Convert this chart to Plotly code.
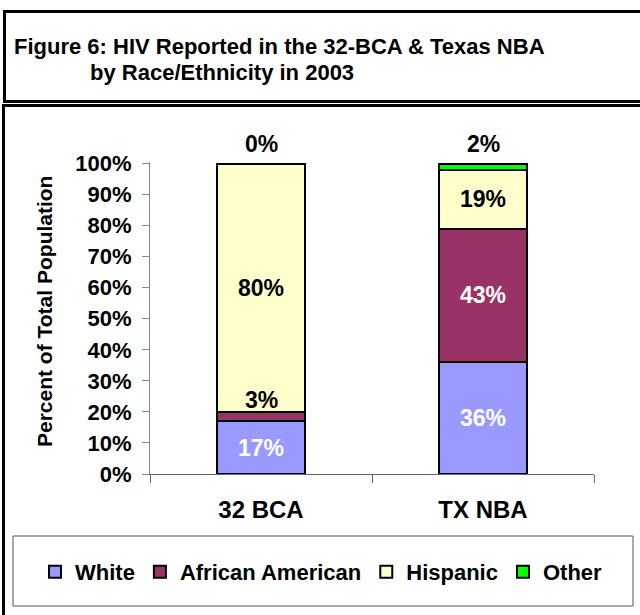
import plotly.graph_objects as go

# ---- data ----
categories = ["32 BCA", "TX NBA"]
series_names = ["White", "African American", "Hispanic", "Other"]
white = [17, 36]
african_american = [3, 43]
hispanic = [80, 19]
other = [0, 2]
y_ticks = [0, 10, 20, 30, 40, 50, 60, 70, 80, 90, 100]

series_values = [white, african_american, hispanic, other]
colors = ["#9999FF", "#993366", "#FFFFCC", "#00FF00"]
label_colors = ["white", "white", "black", "black"]

W, H = 640, 615
PL, PR, PT, PB = 150, 594, 162, 474  # plot area in pixels

FONT = "Liberation Sans, Arial, sans-serif"


def px(x):
    return (x - PL) / (PR - PL)


def py(y):
    return (PB - y) / (PB - PT)


fig = go.Figure()
for name, vals, col in zip(series_names, series_values, colors):
    fig.add_trace(go.Bar(
        x=categories, y=vals, name=name, width=0.4,
        marker=dict(color=col, line=dict(color="black", width=2)),
        hoverinfo="x+y+name",
    ))

# data labels
annotations = []
for ci, cat in enumerate(categories):
    base = 0
    n = len(series_values)
    for si, vals in enumerate(series_values):
        v = vals[ci]
        is_top = si == n - 1
        if v >= 10:
            annotations.append(dict(
                x=cat, y=base + v / 2, xref="x", yref="y", text=f"{v}%",
                showarrow=False, yanchor="middle",
                font=dict(family=FONT, size=23, color=label_colors[si], weight="bold"),
            ))
        else:
            annotations.append(dict(
                x=cat, y=base + v, xref="x", yref="y", text=f"{v}%",
                showarrow=False, yanchor="bottom", yshift=5 if is_top else -3,
                font=dict(family=FONT, size=23, color="black", weight="bold"),
            ))
        base += v

# title lines
annotations.append(dict(
    x=px(12), y=py(46), xref="paper", yref="paper", xanchor="left", yanchor="middle",
    text="Figure 6: HIV Reported in the 32-BCA & Texas NBA", showarrow=False,
    font=dict(family=FONT, size=22, color="black", weight="bold"),
))
annotations.append(dict(
    x=px(88), y=py(73), xref="paper", yref="paper", xanchor="left", yanchor="middle",
    text="by Race/Ethnicity in 2003", showarrow=False,
    font=dict(family=FONT, size=22, color="black", weight="bold"),
))
# y-axis title
annotations.append(dict(
    x=px(44), y=py(312), xref="paper", yref="paper", xanchor="center", yanchor="middle",
    text="Percent of Total Population", textangle=-90, showarrow=False,
    font=dict(family=FONT, size=21, color="black", weight="bold"),
))

shapes = [
    # title box
    dict(type="rect", xref="paper", yref="paper", x0=px(4.5), x1=px(700), y0=py(101.5), y1=py(11.5),
         line=dict(color="black", width=3), layer="above"),
    # chart box
    dict(type="rect", xref="paper", yref="paper", x0=px(3.5), x1=px(700), y0=py(700), y1=py(105.5),
         line=dict(color="black", width=3), layer="above"),
    # legend box
    dict(type="rect", xref="paper", yref="paper", x0=px(13), x1=px(633), y0=py(606), y1=py(536),
         line=dict(color="#555555", width=1), layer="above"),
]

fig.update_layout(
    width=W, height=H,
    margin=dict(l=PL, r=W - PR, t=PT, b=H - PB, autoexpand=False),
    paper_bgcolor="white", plot_bgcolor="white",
    barmode="stack",
    showlegend=True,
    legend=dict(
        orientation="h", traceorder="normal",
        x=px(35), xanchor="left", y=py(572), yanchor="middle",
        font=dict(family=FONT, size=22, color="black", weight="bold"),
        itemwidth=30, bgcolor="rgba(0,0,0,0)", borderwidth=0,
    ),
    annotations=annotations,
    shapes=shapes,
    font=dict(family=FONT, color="black"),
)

fig.update_xaxes(
    showline=True, linecolor="#666666", linewidth=1,
    ticks="outside", ticklen=8, tickcolor="#666666", tickson="boundaries",
    tickfont=dict(family=FONT, size=24, color="black", weight="bold"),
    ticklabelstandoff=14,
    showgrid=False, zeroline=False, range=[-0.5, 1.5],
)
fig.update_yaxes(
    range=[0, 100.5], tickvals=y_ticks, ticktext=[f"{t}%" for t in y_ticks],
    showline=True, linecolor="#888888", linewidth=1,
    ticks="outside", ticklen=7, tickcolor="#888888",
    tickfont=dict(family=FONT, size=22, color="black", weight="bold"),
    ticklabelstandoff=6,
    showgrid=False, zeroline=False,
)

fig.write_html(
    "out.html",
    config={"displayModeBar": False},
    post_script="document.body.style.margin='0';document.body.style.overflow='hidden';",
)
